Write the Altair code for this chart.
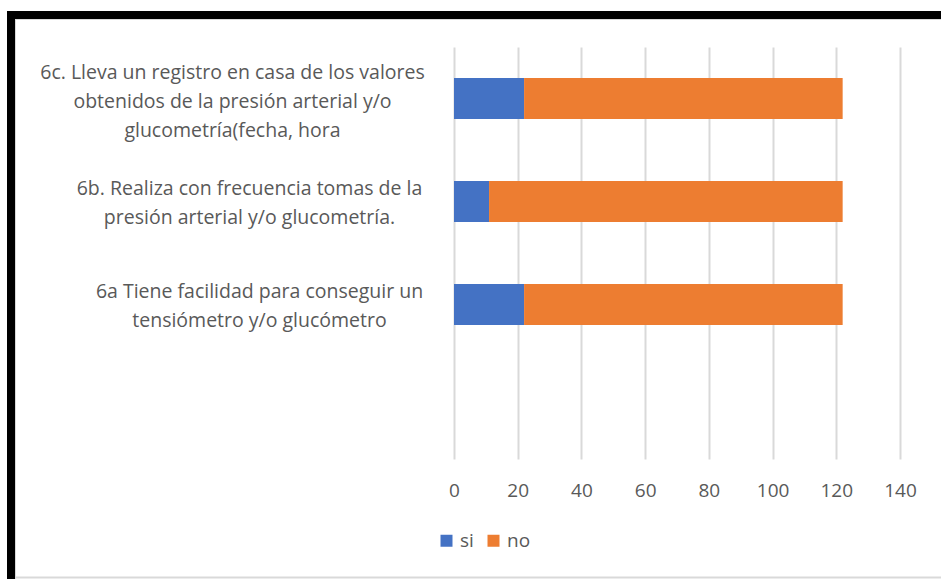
import altair as alt
import pandas as pd

# ---- data ----
categories = [
    "6c. Lleva un registro en casa de los valores|obtenidos de la presión arterial y/o|glucometría(fecha, hora",
    "6b. Realiza con frecuencia tomas de la|presión arterial y/o glucometría.",
    "6a Tiene facilidad para conseguir un|tensiómetro y/o glucómetro",
]
si_values = [22, 11, 22]
no_values = [100, 111, 100]
series = ["si", "no"]
series_colors = ["#4472C4", "#ED7D31"]
x_ticks = [0, 20, 40, 60, 80, 100, 120, 140]

rows = []
for c, s, n in zip(categories, si_values, no_values):
    rows.append({"cat": c, "serie": "si", "valor": s, "orden": 0})
    rows.append({"cat": c, "serie": "no", "valor": n, "orden": 1})
df = pd.DataFrame(rows)

# ---- layout ----
TOTAL_W, TOTAL_H = 941, 579
PL, PT = 454, 47
W, H = 446, 412
FONT = "Open Sans"
TXT = "#595959"

label_padding = {
    "condition": [
        {"test": "indexof(datum.value, '6c') == 0", "value": 222},
        {"test": "indexof(datum.value, '6b') == 0", "value": 205},
    ],
    "value": 195,
}
label_offset = {
    "condition": [
        {"test": "indexof(datum.value, '6c') == 0", "value": -26},
    ],
    "value": -13,
}

bars = alt.Chart(df).mark_bar().encode(
    y=alt.Y(
        "cat:N",
        scale=alt.Scale(domain=categories + [" "], paddingInner=0.6, paddingOuter=0.3),
        axis=alt.Axis(
            title=None, domain=False, ticks=False, grid=False,
            labelExpr="split(datum.label, '|')",
            labelAlign="center", labelBaseline="middle",
            labelPadding=label_padding, labelOffset=label_offset, labelLimit=700,
            labelFont=FONT, labelFontSize=19.5, labelColor=TXT, labelLineHeight=29,
        ),
    ),
    x=alt.X(
        "valor:Q", stack="zero",
        scale=alt.Scale(domain=[0, 140], nice=False),
        axis=alt.Axis(
            values=x_ticks, title=None, grid=True, gridColor="#d9d9d9", gridWidth=2,
            domain=False, ticks=False, labelBaseline="top", labelFlush=False,
            labelFont=FONT, labelFontSize=19, labelColor=TXT, labelPadding=22,
        ),
    ),
    color=alt.Color(
        "serie:N",
        scale=alt.Scale(domain=series, range=series_colors),
        legend=alt.Legend(
            title=None, orient="none", legendX=-17, legendY=484,
            direction="horizontal", symbolType="square", symbolSize=144,
            symbolStrokeWidth=0, labelFont=FONT, labelFontSize=19, labelColor=TXT,
            labelOffset=4, columnPadding=10,
        ),
    ),
    order=alt.Order("orden:Q"),
)

frame_data = alt.Data(values=[{"k": 1}])
top_bar = alt.Chart(frame_data).mark_rule(color="black", strokeWidth=8).encode(
    x=alt.value(7 - PL), x2=alt.value(TOTAL_W - PL), y=alt.value(15 - PT)
)
left_bar = alt.Chart(frame_data).mark_rule(color="black", strokeWidth=8).encode(
    x=alt.value(11 - PL), y=alt.value(11 - PT), y2=alt.value(TOTAL_H - PT)
)
inner_top = alt.Chart(frame_data).mark_rule(color="#d9d9d9", strokeWidth=1).encode(
    x=alt.value(15 - PL), x2=alt.value(TOTAL_W - PL), y=alt.value(19.5 - PT)
)
inner_left = alt.Chart(frame_data).mark_rule(color="#d9d9d9", strokeWidth=1).encode(
    x=alt.value(15.5 - PL), y=alt.value(19 - PT), y2=alt.value(TOTAL_H - PT)
)
bottom_line = alt.Chart(frame_data).mark_rule(color="#d9d9d9", strokeWidth=2).encode(
    x=alt.value(15 - PL), x2=alt.value(TOTAL_W - PL), y=alt.value(577.5 - PT)
)

chart = alt.layer(bars, top_bar, left_bar, inner_top, inner_left, bottom_line).properties(
    width=W, height=H,
    autosize=alt.AutoSizeParams(type="none"),
    padding={"left": PL, "top": PT, "right": TOTAL_W - PL - W, "bottom": TOTAL_H - PT - H},
    background="white",
).configure_view(strokeWidth=0)

chart.save("out.html", embed_options={"renderer": "svg", "actions": False})
